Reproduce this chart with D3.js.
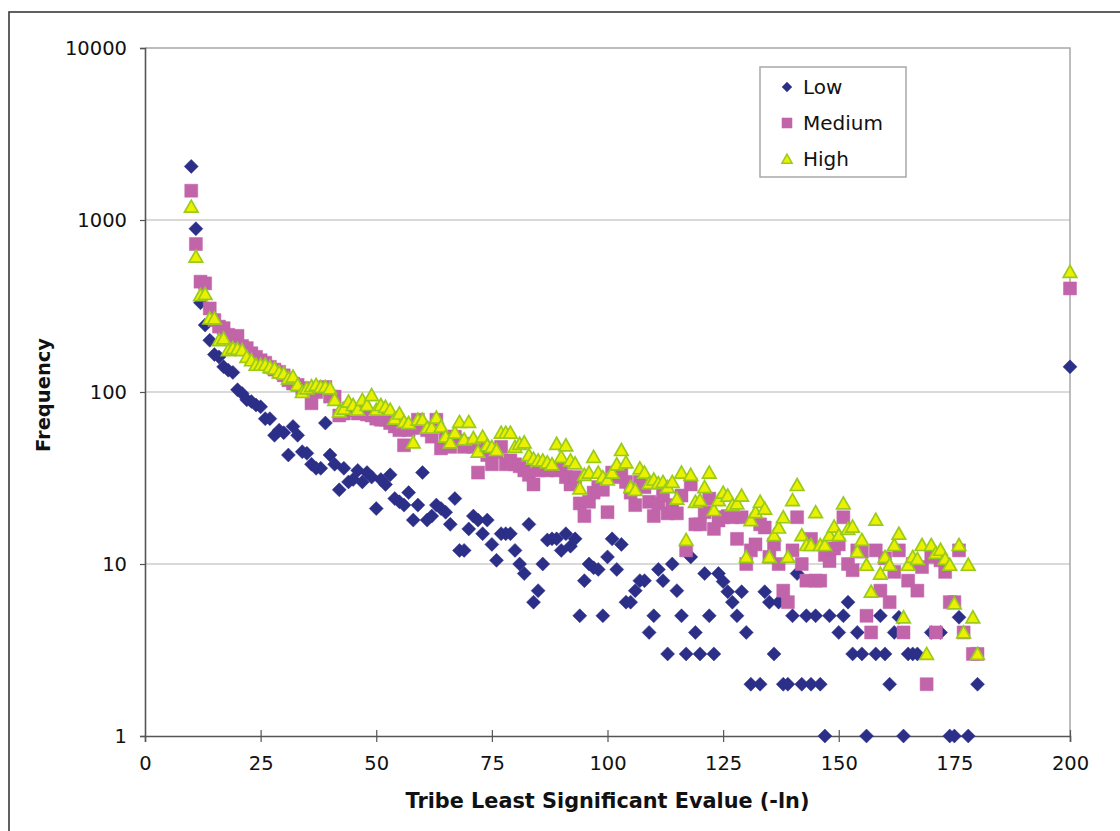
<!DOCTYPE html>
<html><head><meta charset="utf-8">
<script src="https://cdn.jsdelivr.net/npm/d3@7"></script>
<style>html,body{margin:0;padding:0;background:#fff;}svg{display:block;font-family:"DejaVu Sans",Verdana,sans-serif;}</style>
</head><body><svg id="c" width="1120" height="831"></svg>
<script>
const xStart = 10;
const lowValues = [
2050,890,330,245,200,165,160,140,134,130,
103,98,90,88,84,82,70,70,56,60,
58,43,63,56,45,44,38,36,36,66,
43,38,27,36,30,31,35,30,34,32,
21,31,29,33,24,23,22,26,18,22,
34,18,19,22,21,20,17,24,12,12,
16,19,18,15,18,13,10.5,15,15,15,
12,10,8.8,17,6,7,10,13.8,14,14,
12,15,12.7,14,5,8,10,9.5,9.3,5,
11,14,9.3,13,6,6,7,8,8,4,
5,9.3,8,3,10,7,5,3,11,4,
3,8.8,5,3,8.8,7.9,6.9,6,5,6.9,
4,2,null,2,6.9,6,3,6,2,2,
5,8.8,2,5,2,5,2,1,5,null,
4,5,6,3,4,3,1,null,3,5,
3,2,4,4.9,1,3,3,3,null,null,
4,null,4,null,1,1,4.9,null,1,null,2];
const mediumValues = [
1480,725,438,428,306,262,240,235,215,210,
212,185,180,168,160,153,148,140,135,131,
125,117,112,110,105,105,86,100,105,107,
94,94,73,75,80,78,75,76,74,73,
70,69,69,66,63,60,49,60,62,69,
62,60,55,69,47,55,48,55,52,48,
50,48,34,47,43,38,45,48,38,40,
38,37,35,33,29,35,36,35,36,35,
36,32,29,32,22.5,19,23,26,28,27,
20,34,32,35,30,26,22,30,28,23,
19,22.5,25,19.7,22,19.7,25,12,29,17,
17,20,24,16,17.9,18.7,19,18.7,14,18.7,
10,12,13,17,16.3,11,13,10,7,6,
12,18.7,10,8,14,8,8,11.3,10.4,12.3,
13,18.7,10,9.2,12,11.8,5,4,12,7,
10.8,6,9,12,4,8,10,7,9.6,2,
11,4,10.5,9,6,6,12,4,null,3,3];
const highValues = [
1195,612,366,372,268,268,200,205,175,180,
178,175,160,153,144,144,144,140,137,130,
128,120,123,110,100,105,108,110,107,107,
105,90,77,80,88,84,79,90,84,96,
79,84,82,79,70,75,67,66,51,69,
69,62,62,71,63,55,51,58,67,53,
67,54,45,55,49,48,46,58,58,58,
48,50,51,43,41,40,40,39,38,50,
42,49,40,38.5,27.5,33,34,42,34,32,
31,34,38,46,39,28,27,36,34,29.5,
31,29.5,30,28,30,24,34,13.8,33,23,
23.5,28,34,20.6,23.5,26,25,22,22.5,25,
11,18,20,23,21,11,14.7,16.3,18.7,11,
23.5,28.8,14.7,12.9,12.9,20,12.9,12.9,14.7,16.5,
14.7,22.5,16,16.5,11.8,13.8,9.9,6.9,18.1,8.8,
11,9.9,12.9,15,4.9,9.9,11,10.7,12.9,3,
12.9,11.6,12.1,10.7,9.9,5.9,12.9,4,9.9,4.9,3];
// overflow bucket at x = 200
const tailX = 200;
const tailValues = {Low:140, Medium:400, High:500};
const seriesNames = ["Low","Medium","High"];
const xTicks = [0,25,50,75,100,125,150,175,200];
const yTicks = [1,10,100,1000,10000];
const xTitle = "Tribe Least Significant Evalue (-ln)";
const yTitle = "Frequency";

const colors = {Low:{fill:"#2c2f88",stroke:"#2c2f88"},Medium:{fill:"#c264aa",stroke:"#c264aa"},High:{fill:"#eaf000",stroke:"#9acb1c"}};

function toPoints(vals,name){
  const pts = vals.map((v,i)=>({x:xStart+i,y:v})).filter(d=>d.y!=null);
  pts.push({x:tailX,y:tailValues[name]});
  return pts;
}
const data = {Low:toPoints(lowValues,"Low"),Medium:toPoints(mediumValues,"Medium"),High:toPoints(highValues,"High")};

const svg = d3.select("#c");
const L=145,R=1070,T=48,B=736;
const x = d3.scaleLinear().domain([0,200]).range([L,R]);
const y = d3.scaleLog().domain([1,10000]).range([B,T]);

// outer frame
svg.append("rect").attr("x",9).attr("y",12).attr("width",1300).attr("height",1000)
  .attr("fill","none").attr("stroke","#3a3a3a").attr("stroke-width",1.6);

// gridlines
svg.append("g").selectAll("line").data(yTicks.filter(t=>t>1&&t<10000)).join("line")
  .attr("x1",L).attr("x2",R).attr("y1",d=>y(d)).attr("y2",d=>y(d))
  .attr("stroke","#b4b4b4").attr("stroke-width",1);
// plot border top/right
svg.append("path").attr("d",`M${L},${T}H${R}V${B}`).attr("fill","none").attr("stroke","#a8a8a8").attr("stroke-width",1.5);

// axes
const yAxis = d3.axisLeft(y).tickValues(yTicks).tickFormat(d3.format("d")).tickSize(5).tickPadding(13);
const gy = svg.append("g").attr("transform",`translate(${L},0)`).call(yAxis);
const xAxis = d3.axisBottom(x).tickValues(xTicks).tickSize(6).tickPadding(14);
const gx = svg.append("g").attr("transform",`translate(0,${B})`).call(xAxis);
[gx,gy].forEach(g=>{
  g.select(".domain").attr("stroke","#555").attr("stroke-width",1.6);
  g.selectAll(".tick line").attr("stroke","#555").attr("stroke-width",1.2);
  g.selectAll("text").attr("font-size","19.5px").attr("fill","#111").attr("font-family","DejaVu Sans, Verdana, sans-serif");
});
gx.selectAll(".tick line").attr("y1",-6);
gx.selectAll(".tick").filter(d=>d===0).select("line").attr("y1",0);

// titles
svg.append("text").attr("x",(L+R)/2).attr("y",808).attr("text-anchor","middle")
  .attr("font-size","20.8px").attr("font-weight","bold").attr("fill","#111").text(xTitle);
svg.append("text").attr("transform","translate(50,395) rotate(-90)").attr("text-anchor","middle")
  .attr("font-size","19.5px").attr("font-weight","bold").attr("fill","#111").text(yTitle);

// marker shapes
function markerPath(name){
  if(name==="Low") return "M0,-7L7,0L0,7L-7,0Z";
  if(name==="Medium") return "M-6.5,-6.5H6.5V6.5H-6.5Z";
  return "M0,-6.5L6.8,5.5L-6.8,5.5Z";
}
seriesNames.forEach(name=>{
  svg.append("g").selectAll("path").data(data[name]).join("path")
    .attr("transform",d=>`translate(${x(d.x)},${y(d.y)})`)
    .attr("d",markerPath(name))
    .attr("fill",colors[name].fill).attr("stroke",colors[name].stroke)
    .attr("stroke-width",name==="High"?1.7:0.5);
});

// legend
const lg = svg.append("g");
lg.append("rect").attr("x",760).attr("y",67).attr("width",146).attr("height",110)
  .attr("fill","#fff").attr("stroke","#a8a8a8").attr("stroke-width",1.5);
seriesNames.forEach((name,i)=>{
  const cy = 87+i*36;
  const sc = name==="Low"?0.72:(name==="Medium"?0.78:0.75);
  lg.append("path").attr("transform",`translate(787,${cy}) scale(${sc})`).attr("d",markerPath(name))
    .attr("fill",colors[name].fill).attr("stroke",colors[name].stroke).attr("stroke-width",name==="High"?2:0.5);
  lg.append("text").attr("x",803).attr("y",cy).attr("dy","0.36em").attr("font-size","20px").attr("fill","#111").text(name);
});
</script></body></html>
